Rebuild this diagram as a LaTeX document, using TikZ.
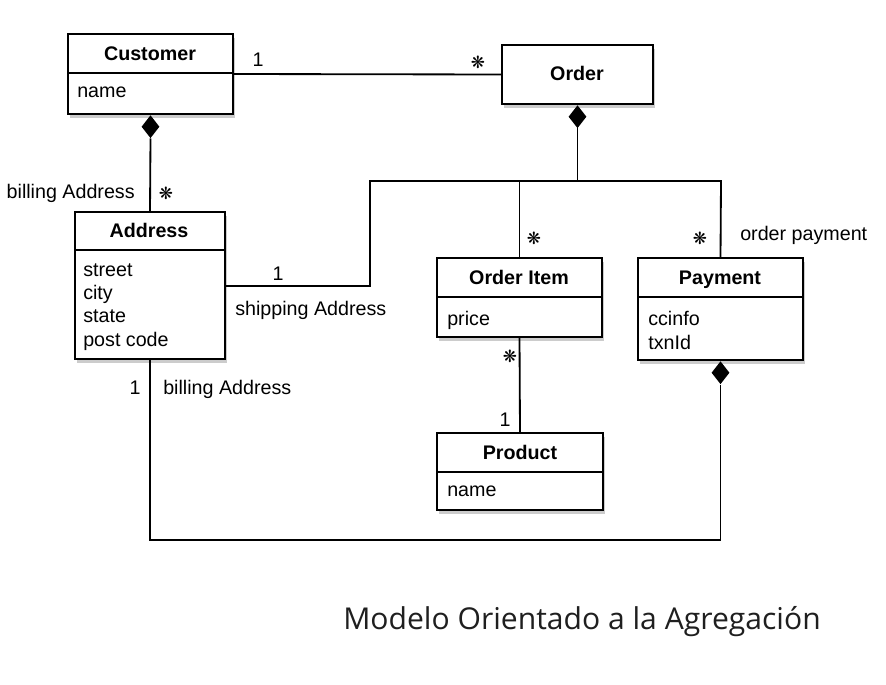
\documentclass[tikz,border=0pt]{standalone}
\usepackage{fontspec}
\setmainfont{Liberation Sans}
\newfontfamily\capfont{Open Sans}
\newfontfamily\symfont{DejaVu Sans}
\usetikzlibrary{shapes.geometric, shadows, positioning, calc}
\newcommand{\many}{{\symfont\fontsize{12}{14}\selectfont ❋}}

\begin{document}
\begin{tikzpicture}[
    x=0.025cm, y=-0.025cm,
    cls/.style={draw, line width=1.3pt, fill=white, inner sep=0pt, drop shadow={opacity=0.4, shadow xshift=1.5pt, shadow yshift=-3pt}},
    ttl/.style={font=\fontsize{14}{17}\selectfont\bfseries, inner sep=0pt, anchor=base},
    attr/.style={font=\fontsize{14}{16.7}\selectfont, align=left, anchor=north west, inner sep=0pt},
    lbl/.style={font=\fontsize{14}{17}\selectfont, inner sep=0pt},
    dia/.style={diamond, fill=black, inner sep=0pt, minimum width=0.45cm, minimum height=0.575cm},
    link/.style={line width=1.3pt}
]
    \fill[white] (0,0) rectangle (886,684);
    \useasboundingbox (0,0) rectangle (886,684);

    % Classes
    \node[cls, minimum width=4.125cm, minimum height=2cm] (customer) at (150.5,74) {};
    \node[cls, minimum width=3.775cm, minimum height=1.475cm] (order) at (577.5,74.5) {};
    \node[cls, minimum width=3.75cm, minimum height=3.675cm] (address) at (150,285.5) {};
    \node[cls, minimum width=4.125cm, minimum height=1.975cm] (item) at (519.5,297.5) {};
    \node[cls, minimum width=4.125cm, minimum height=2.55cm] (payment) at (720.5,309) {};
    \node[cls, minimum width=4.15cm, minimum height=1.925cm] (product) at (520,471.5) {};

    % Compartment lines
    \draw[link] (customer.west |- 0,73) -- (customer.east |- 0,73);
    \draw[link] (address.west |- 0,250) -- (address.east |- 0,250);
    \draw[link] (item.west |- 0,297) -- (item.east |- 0,297);
    \draw[link] (payment.west |- 0,297) -- (payment.east |- 0,297);
    \draw[link] (product.west |- 0,472) -- (product.east |- 0,472);

    % Names and attributes
    \node[ttl] (customerT) at (150,60) {Customer};
    \node[ttl] (orderT) at (577,80) {Order};
    \node[ttl] (addressT) at (149,237) {Address};
    \node[ttl] (itemT) at (519,284) {Order Item};
    \node[ttl] (paymentT) at (720,284) {Payment};
    \node[ttl] (productT) at (520,459) {Product};
    \node[attr] (customerA) at (77,87) {name};
    \node[attr] (addressA) at (83,263) {street\\city\\state\\post code};
    \node[attr] (itemA) at (447,311) {price};
    \node[attr] (paymentA) at (648,311) {ccinfo\\txnId};
    \node[attr] (productA) at (447,486) {name};

    % Composition diamonds
    \node[dia, anchor=north] (custdia) at (customer.south) {};
    \node[dia, anchor=north] (orddia) at (order.south) {};
    \node[dia, anchor=north] (paydia) at (payment.south) {};

    % Connections
    \coordinate (shipc) at (370,181);
    \coordinate (payc) at (721,181);
    \coordinate (billc) at (150,540);
    \draw[link] (customer.east) -- (order.west);
    \draw[link] (custdia.south) -- (address.north);
    \draw[link] (orddia.south) -- (orddia.south |- shipc);
    \draw[link] (address.east |- 0,286) -| (shipc) -- (payc) -- (payment.north);
    \draw[link] (item.north) -- (item.north |- shipc);
    \draw[link] (item.south) -- (product.north);
    \draw[link] (paydia.south) |- (billc) -- (address.south);

    % Multiplicities and roles
    \node[lbl] (m1) at (258,60) {1};
    \node[lbl] (m2) at (478,62) {\many};
    \node[lbl, anchor=east] (r1) at (135,193) {billing Address};
    \node[lbl] (m3) at (166,193) {\many};
    \node[lbl] (m4) at (278,274) {1};
    \node[lbl, anchor=west] (r2) at (235,310) {shipping Address};
    \node[lbl] (m5) at (534,238) {\many};
    \node[lbl] (m6) at (700,238) {\many};
    \node[lbl, anchor=west] (r3) at (740,235) {order payment};
    \node[lbl] (m7) at (510,356) {\many};
    \node[lbl] (m8) at (505,420) {1};
    \node[lbl] (m9) at (135,388) {1};
    \node[lbl, anchor=west] (r4) at (163,389) {billing Address};

    % Caption
    \node[font=\capfont\fontsize{21.4}{26}\selectfont, text=black!88, inner sep=0pt] (caption) at (582,622) {Modelo Orientado a la Agregación};
\end{tikzpicture}
\end{document}
